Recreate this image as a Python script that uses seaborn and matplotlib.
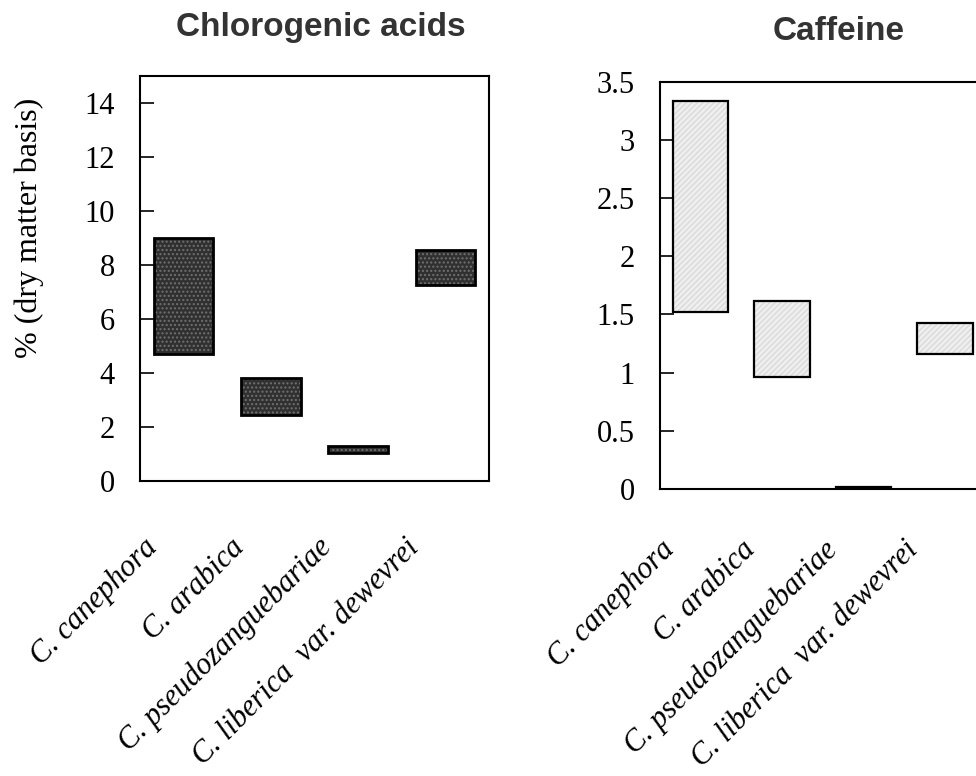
import matplotlib
matplotlib.use("Agg")
import matplotlib.pyplot as plt
import matplotlib.transforms as mtransforms
import seaborn as sns
import pandas as pd

# species (x categories)
species = ["C. canephora", "C. arabica", "C. pseudozanguebariae",
           "C. liberica  var. dewevrei"]

# ranges, % dry matter basis
cga_low = [4.7, 2.45, 1.03, 7.25]
cga_high = [9.0, 3.8, 1.3, 8.55]
caf_low = [1.52, 0.96, 0.0, 1.16]
caf_high = [3.33, 1.62, 0.02, 1.43]

cga_ticks = [0, 2, 4, 6, 8, 10, 12, 14]
caf_ticks = [0, 0.5, 1, 1.5, 2, 2.5, 3, 3.5]
caf_ticklabels = ["0", "0.5", "1", "1.5", "2", "2.5", "3", "3.5"]

sns.set_style("white")
plt.rcParams["hatch.linewidth"] = 1.0
plt.rcParams["text.color"] = "black"
plt.rcParams["xtick.color"] = "black"
plt.rcParams["ytick.color"] = "black"
plt.rcParams["axes.labelcolor"] = "black"

SERIF = "Liberation Serif"
SANS = "Liberation Sans"

fig = plt.figure(figsize=(9.76, 7.76), dpi=100)
ax1 = fig.add_axes([0.1434, 0.3802, 0.3576, 0.5225])
ax2 = fig.add_axes([0.6762, 0.3698, 0.3336, 0.5249])


def range_bars(ax, low, high, face, hatch, hatch_col, lw):
    df = pd.DataFrame({"species": species,
                       "span": [h - l for l, h in zip(low, high)]})
    # filled layer carries the pattern, outline layer the black edge
    sns.barplot(data=df, x="species", y="span", ax=ax, width=0.68,
                color=face, edgecolor=hatch_col, linewidth=0,
                hatch=hatch, saturation=1)
    sns.barplot(data=df, x="species", y="span", ax=ax, width=0.68,
                fill=False, edgecolor="black", linewidth=lw)
    for p, b in zip(ax.patches, low + low):
        p.set_y(b)
    ax.set_xlim(-0.5, 3.5)
    ax.set_xlabel("")
    ax.set_ylabel("")


range_bars(ax1, cga_low, cga_high, "#303030", "....", "#707070", 2.0)
range_bars(ax2, caf_low, caf_high, "#efefef", "//////", "#dadada", 1.6)

ax1.set_ylim(0, 15)
ax1.set_yticks(cga_ticks)
ax1.set_yticklabels([str(t) for t in cga_ticks])
ax2.set_ylim(0, 3.5)
ax2.set_yticks(caf_ticks)
ax2.set_yticklabels(caf_ticklabels)

for ax, dy in ((ax1, -0.52), (ax2, -0.46)):
    offset = mtransforms.ScaledTranslation(-0.41, dy, fig.dpi_scale_trans)
    for s in ax.spines.values():
        s.set_color("black")
        s.set_linewidth(1.5)
    ax.tick_params(axis="y", direction="in", length=10, width=1.2,
                   pad=18, labelsize=22, left=True, colors="black")
    ax.tick_params(axis="x", length=0, pad=0, colors="black")
    for lab in ax.get_yticklabels():
        lab.set_fontfamily(SERIF)
    ax.set_xticks(range(len(species)))
    ax.set_xticklabels(species, rotation=45, ha="right", va="top",
                       rotation_mode="anchor", fontsize=22,
                       fontfamily=SERIF, fontstyle="italic", color="black")
    for lab in ax.get_xticklabels():
        lab.set_transform(lab.get_transform() + offset)

fig.text(29 / 976, 1 - 228 / 776, "% (dry matter basis)", rotation=90,
         ha="center", va="center", fontsize=23, fontfamily=SERIF)
fig.text(320.5 / 976, 1 - 36 / 776, "Chlorogenic acids", ha="center",
         va="baseline", fontsize=24, fontweight="bold", fontfamily=SANS,
         color="#333333")
fig.text(839 / 976, 1 - 40 / 776, "Caffeine", ha="center",
         va="baseline", fontsize=24, fontweight="bold", fontfamily=SANS,
         color="#333333")

fig.savefig("out.png", dpi=100)
